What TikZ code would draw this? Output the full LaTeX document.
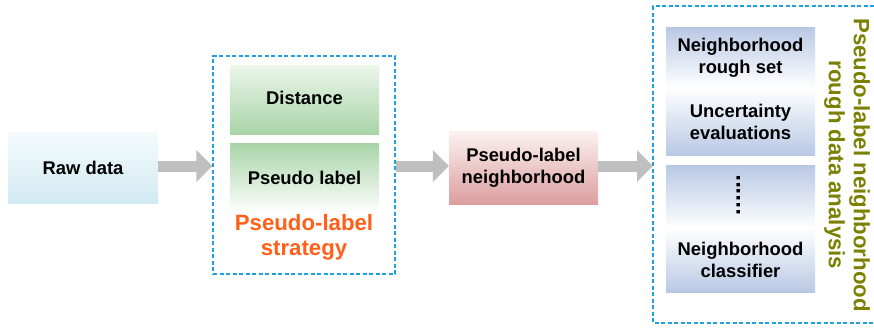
\documentclass[tikz,border=0pt]{standalone}
\usepackage{fontspec}
\setmainfont{Liberation Sans}
\usetikzlibrary{arrows.meta}
\definecolor{dashblue}{RGB}{30,160,225}
\definecolor{arrowgray}{RGB}{191,191,191}
\definecolor{stratorange}{RGB}{255,95,25}
\definecolor{olivetxt}{RGB}{122,128,0}
\definecolor{rawblue}{RGB}{210,234,242}
\definecolor{rawtop}{RGB}{244,251,253}
\definecolor{greenbox}{RGB}{168,212,168}
\definecolor{greenlight}{RGB}{236,246,234}
\definecolor{pinkbox}{RGB}{220,158,158}
\definecolor{pinklight}{RGB}{252,242,242}
\definecolor{bluebox}{RGB}{184,200,228}
\tikzset{
  txt/.style={font=\bfseries\fontsize{18.4}{22}\selectfont, align=center, text=black},
  boxbase/.style={txt, rectangle, inner sep=0pt, draw=none},
  dashbox/.style={draw=dashblue, line width=1.3pt, dash pattern=on 4pt off 2.5pt},
  blockarrow/.style={draw=arrowgray, line width=11pt, -{Triangle[length=16pt, width=31pt]}},
  bigtxt/.style={font=\bfseries\fontsize{22.2}{25}\selectfont, align=center}
}
\begin{document}
\begin{tikzpicture}[x=1pt, y=-1pt]
\useasboundingbox (0,0) rectangle (874,330);
% raw data
\node[boxbase, minimum width=150pt, minimum height=71pt, top color=rawtop, bottom color=rawblue] (raw) at (83,167.5) {Raw data};
% strategy box
\node[dashbox, minimum width=182pt, minimum height=218pt, inner sep=0pt] (strat) at (304,165) {};
\node[boxbase, minimum width=149pt, minimum height=69pt, top color=greenlight, bottom color=greenbox] (dist) at (304.5,99.5) {};
\node[txt] (disttxt) at (304.5,97.5) {Distance};
\node[boxbase, minimum width=149pt, minimum height=70pt, top color=greenbox, bottom color=white] (plabel) at (304.5,178) {Pseudo label};
\node[bigtxt, text=stratorange] (strattxt) at (304,237.5) {Pseudo-label\\strategy};
% pseudo-label neighborhood
\node[boxbase, minimum width=149pt, minimum height=73pt, top color=pinklight, bottom color=pinkbox] (pln) at (523.5,167.5) {Pseudo-label\\neighborhood};
% right box
\coordinate (rtop) at (874,6);
\coordinate (rbot) at (874,323);
\coordinate (rwest) at (653,166);
\draw[dashbox] (rtop) -| (653,323) -- (rbot);
\node[boxbase, minimum width=149pt, minimum height=61pt, top color=bluebox, bottom color=white] (nrs) at (740.5,57.5) {Neighborhood\\rough set};
\node[boxbase, minimum width=149pt, minimum height=67pt, top color=white, bottom color=bluebox] (unc) at (740.5,121.5) {Uncertainty\\evaluations};
\node[boxbase, minimum width=149pt, minimum height=63pt, top color=bluebox, bottom color=white] (dots) at (740.5,196.5) {};
\node[font=\bfseries\fontsize{24}{24}\selectfont, rotate=90, anchor=base, inner sep=0pt] (vd) at (740,195) {......};
\node[boxbase, minimum width=149pt, minimum height=64pt, top color=white, bottom color=bluebox] (ncl) at (740.5,260) {Neighborhood\\classifier};
\node[bigtxt, text=olivetxt, rotate=-90] (title) at (847,165) {Pseudo-label neighborhood\\rough data analysis};
% arrows
\draw[blockarrow] (raw.east |- 0,166) -- (strat.west |- 0,166);
\draw[blockarrow] (strat.east |- 0,166) -- (pln.west |- 0,166);
\draw[blockarrow] (pln.east |- 0,166) -- (rwest);
\end{tikzpicture}
\end{document}
